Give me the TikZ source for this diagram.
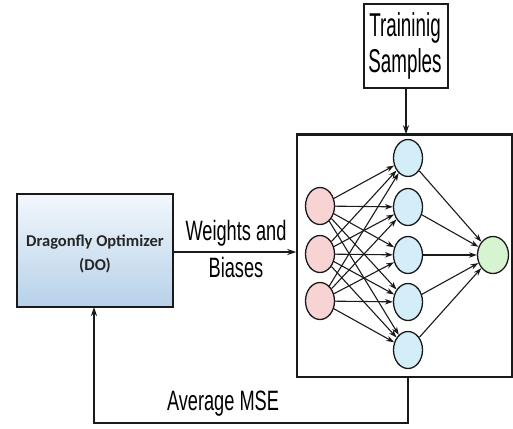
\documentclass[tikz,border=0pt]{standalone}
\usepackage{fontspec}
\setmainfont{Liberation Sans}
\newfontfamily\narrowfont[FakeStretch=0.65]{Liberation Sans}
\newfontfamily\tallfont[FakeStretch=0.57]{Liberation Sans}
\newfontfamily\labelfont{Carlito}
\usetikzlibrary{arrows.meta,positioning,calc,shapes.geometric}
\definecolor{inred}{HTML}{F8D3D3}
\definecolor{hidblue}{HTML}{D3EEF8}
\definecolor{outgreen}{HTML}{D6F4CF}
\definecolor{dotop}{HTML}{F2F7FC}
\definecolor{dobot}{HTML}{B6D1E9}
\definecolor{edge}{HTML}{1A1A1A}
\tikzset{
  neuron/.style={ellipse, draw=edge, line width=1.3pt, minimum width=29pt, minimum height=37pt, inner sep=0pt},
  inneuron/.style={neuron, fill=inred},
  hidneuron/.style={neuron, fill=hidblue},
  outneuron/.style={neuron, fill=outgreen, minimum width=31pt},
  synapse/.style={-{Stealth[length=8pt,width=5.5pt]}, line width=1.1pt, draw=edge},
  flow/.style={-{Stealth[length=9pt,width=6pt]}, line width=1.3pt, draw=edge},
  bigtext/.style={font=\narrowfont\fontsize{28}{37}\selectfont, inner sep=0pt, anchor=base},
  dotext/.style={font=\labelfont\bfseries\fontsize{16.5}{24}\selectfont, text=black!85, inner sep=0pt, anchor=base},
}
\begin{document}
\begin{tikzpicture}[x=1pt,y=-1pt]
\useasboundingbox (0,0) rectangle (513,428);

% optimizer block with vertical shading
\shade[top color=dotop, bottom color=dobot] (17,194) rectangle (173,307);
\draw[edge, line width=1.6pt] (17,194) rectangle (173,307);
\draw[edge, line width=2.6pt] (17,307) -- (173,307);
\node[inner sep=0pt, minimum width=156pt, minimum height=113pt] (do) at (95,250.5) {};
\node[dotext] (dol1) at (95,246) {Dragonfly Optimizer};
\node[dotext] (dol2) at (95,270) {(DO)};

% network frame
\node[draw=edge, line width=1.5pt, minimum width=215pt, minimum height=242pt, inner sep=0pt] (nn) at (404.5,256) {};
\draw[edge, line width=2.2pt] (nn.north west) -- (nn.north east);

% training samples block
\node[draw=edge, line width=1.5pt, minimum width=84pt, minimum height=84pt, inner sep=0pt] (ts) at (406,46) {};
\node[font=\tallfont\fontsize{33}{37}\selectfont, inner sep=0pt, anchor=base] (tsl1) at (405,37) {Traininig};
\node[font=\tallfont\fontsize{33}{37}\selectfont, inner sep=0pt, anchor=base] (tsl2) at (405,72) {Samples};

% neurons
\foreach \i/\y in {1/206,2/254,3/301}
  \node[inneuron] (i\i) at (320,\y) {};
\foreach \j/\y in {1/158,2/207,3/255,4/302,5/350}
  \node[hidneuron] (h\j) at (408,\y) {};
\node[outneuron] (o) at (493,255) {};

% synapses
\foreach \i in {1,2,3}
  \foreach \j in {1,...,5}
    \draw[synapse] (i\i) -- (h\j);
\foreach \j in {1,...,5}
  \draw[synapse] (h\j) -- (o);

% data flow
\coordinate (tsin) at (ts.south |- nn.north);
\draw[flow] (ts.south) -- (tsin);
\draw[flow] (do.east |- 0,252) -- (nn.west |- 0,252);
\node[bigtext] (wl1) at (236,240) {Weights and};
\node[bigtext] (wl2) at (236,277) {Biases};

% feedback loop
\coordinate (fbstart) at (h5.south |- nn.south);
\coordinate (fbend) at (94,307);
\draw[flow] (fbstart) -- (408,423) -- (94,423) -- (fbend);
\node[bigtext] (mse) at (223,410) {Average MSE};
\end{tikzpicture}
\end{document}
